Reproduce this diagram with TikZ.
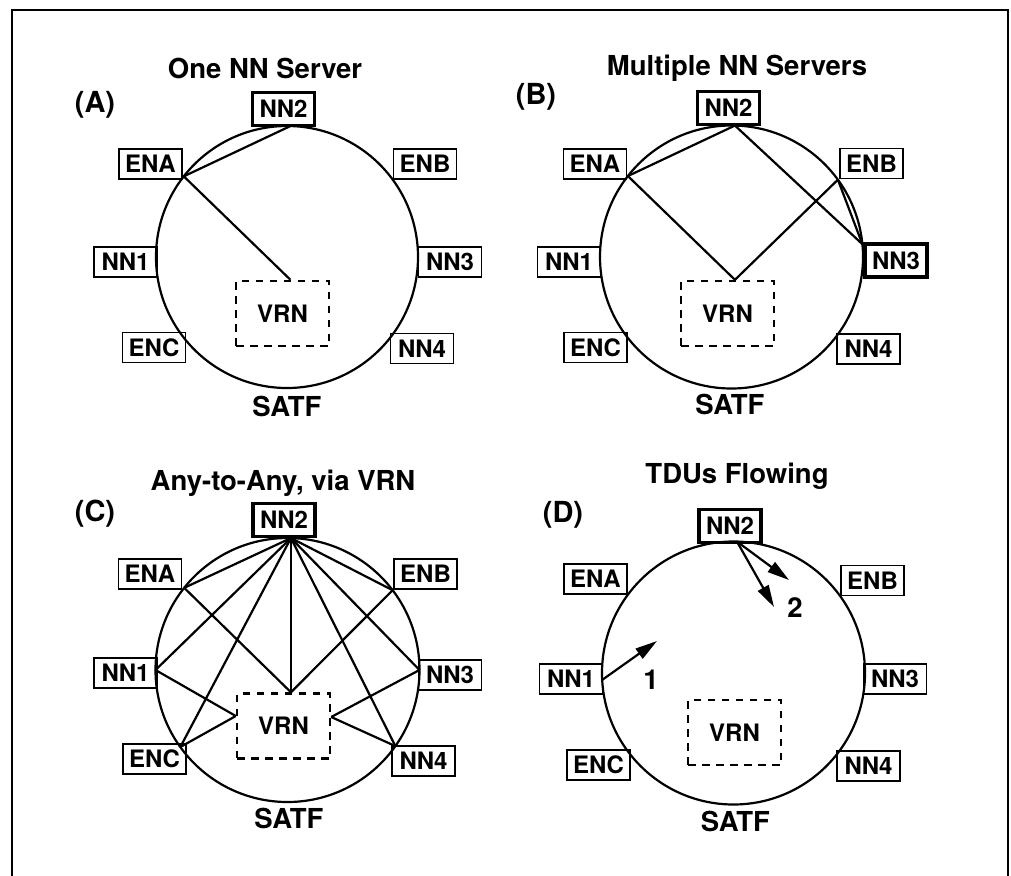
\documentclass[tikz,border=0pt]{standalone}
\usepackage{fontspec}
\setmainfont{TeX Gyre Heros}
\usetikzlibrary{calc,arrows.meta}

\begin{document}
\begin{tikzpicture}[x=1pt,y=-1pt,
  lbl/.style={font=\fontsize{24}{26}\bfseries\selectfont},
  box/.style={draw, lbl, line width=1.5pt, minimum width=63pt, minimum height=30pt, inner sep=0pt},
  hub/.style={box, line width=3.6pt, minimum width=62pt, minimum height=33pt},
  vrnbox/.style={draw, lbl, line width=2.4pt, dash pattern=on 7.5pt off 6.5pt, minimum width=93pt, minimum height=65pt, inner sep=0pt},
  ring/.style={line width=2.2pt},
  wire/.style={line width=2.2pt},
  title/.style={font=\fontsize{27.5}{30}\bfseries\selectfont, inner sep=0pt},
  tag/.style={font=\fontsize{29}{31}\bfseries\selectfont, inner sep=0pt},
  flow/.style={wire, -{Triangle[length=22pt,width=12pt]}},
]
\clip (0,0) rectangle (1011,875);
\draw[line width=1.4pt] (12,10) rectangle (1008,900);

% ---------- (A) One NN Server ----------
\node[title, anchor=base] (a-title) at (265,78) {One NN Server};
\node[tag] (a-tag) at (95,105) {(A)};
\node[hub] (a-nn2) at (283.5,109) {NN2};
\node[box] (a-ena) at (150.5,164) {ENA};
\node[box] (a-enb) at (425,164) {ENB};
\node[box] (a-nn1) at (125.5,262) {NN1};
\node[box] (a-nn3) at (450,262) {NN3};
\node[box] (a-enc) at (154,347.5) {ENC};
\node[box] (a-nn4) at (422,348.5) {NN4};
\node[vrnbox] (a-vrn) at (282.5,313.5) {VRN};
\coordinate (a-c) at (287,257);
\draw[ring] (a-c) circle[radius=131];
\node[title] (a-satf) at (287,406) {SATF};
\coordinate (a-jena) at ($(a-c)+(-142:131)$);
\coordinate (a-jnn2) at ($(a-c)+(-88.5:131)$);
\coordinate (a-jvrn) at (a-jnn2 |- a-vrn.north);
\draw[wire] (a-jena) -- (a-jnn2);
\draw[wire] (a-jena) -- (a-jvrn);

% ---------- (B) Multiple NN Servers ----------
\node[title, anchor=base] (b-title) at (737,75) {Multiple NN Servers};
\node[tag] (b-tag) at (536,97) {(B)};
\node[hub] (b-nn2) at (728.5,108) {NN2};
\node[box] (b-ena) at (595,164) {ENA};
\node[box] (b-enb) at (871.5,163.5) {ENB};
\node[box] (b-nn1) at (569,262) {NN1};
\node[hub] (b-nn3) at (896,260.5) {NN3};
\node[box] (b-enc) at (595.5,347.5) {ENC};
\node[box] (b-nn4) at (868.5,349) {NN4};
\node[vrnbox] (b-vrn) at (727.5,313.5) {VRN};
\coordinate (b-c) at (731.5,257);
\draw[ring] (b-c) circle[radius=131.5];
\node[title] (b-satf) at (730,404) {SATF};
\coordinate (b-jena) at ($(b-c)+(-142:131.5)$);
\coordinate (b-jenb) at ($(b-c)+(-36:131.5)$);
\coordinate (b-jnn2) at ($(b-c)+(-88.5:131.5)$);
\coordinate (b-jnn3) at ($(b-c)+(-5.6:131.5)$);
\coordinate (b-jvrn) at (b-jnn2 |- b-vrn.north);
\draw[wire] (b-jena) -- (b-jnn2);
\draw[wire] (b-jena) -- (b-jvrn);
\draw[wire] (b-jnn2) -- (b-jnn3);
\draw[wire] (b-jenb) -- (b-jvrn);
\draw[wire] (b-jenb) -- (b-jnn3);

% ---------- (C) Any-to-Any, via VRN ----------
\node[title, anchor=base] (c-title) at (283,490) {Any-to-Any, via VRN};
\node[tag] (c-tag) at (95,514) {(C)};
\node[hub] (c-nn2) at (284,520) {NN2};
\node[box] (c-ena) at (150,574) {ENA};
\node[box] (c-enb) at (425.5,574) {ENB};
\node[box] (c-nn1) at (125.5,673) {NN1};
\node[box] (c-nn3) at (450,675) {NN3};
\node[box] (c-enc) at (154.5,759) {ENC};
\node[box] (c-nn4) at (423.5,761) {NN4};
\node[vrnbox] (c-vrn) at (283.5,726) {VRN};
\coordinate (c-c) at (287.5,670);
\draw[ring] (c-c) circle[radius=132];
\node[title] (c-satf) at (289,818) {SATF};
\coordinate (c-jena) at ($(c-c)+(-141.5:132)$);
\coordinate (c-jenb) at ($(c-c)+(-37.2:132)$);
\coordinate (c-jnn1) at ($(c-c)+(180:132)$);
\coordinate (c-jnn3) at ($(c-c)+(0:132)$);
\coordinate (c-jenc) at ($(c-c)+(144.3:132)$);
\coordinate (c-jnn4) at ($(c-c)+(35.2:132)$);
\coordinate (c-jnn2) at ($(c-c)+(-88.5:132)$);
\coordinate (c-jvtop) at (c-jnn2 |- c-vrn.north);
\coordinate (c-jvl) at ($(c-vrn.west)+(0,-10)$);
\coordinate (c-jvr) at ($(c-vrn.east)+(0,-9)$);
\foreach \t in {ena,nn1,enc,vtop,nn4,nn3,enb}
  \draw[wire] (c-jnn2) -- (c-j\t);
\draw[wire] (c-jena) -- (c-jvtop);
\draw[wire] (c-jenb) -- (c-jvtop);
\draw[wire] (c-jnn1) -- (c-jvl);
\draw[wire] (c-jenc) -- (c-jvl);
\draw[wire] (c-jnn3) -- (c-jvr);
\draw[wire] (c-jnn4) -- (c-jvr);

% ---------- (D) TDUs Flowing ----------
\node[title, anchor=base] (d-title) at (737,483) {TDUs Flowing};
\node[tag] (d-tag) at (563,515) {(D)};
\node[hub] (d-nn2) at (730,526) {NN2};
\node[box] (d-ena) at (595.5,579) {ENA};
\node[box] (d-enb) at (872.5,580.5) {ENB};
\node[box] (d-nn1) at (571,679) {NN1};
\node[box] (d-nn3) at (895,679) {NN3};
\node[box] (d-enc) at (598.5,765) {ENC};
\node[box] (d-nn4) at (868.5,766) {NN4};
\node[vrnbox] (d-vrn) at (734.5,732.5) {VRN};
\coordinate (d-c) at (733.5,673);
\draw[ring] (d-c) circle[radius=131.5];
\node[title] (d-satf) at (735.5,821) {SATF};
\coordinate (d-jnn1) at ($(d-c)+(177:131.5)$);
\coordinate (d-jnn2) at ($(d-c)+(-88.5:131.5)$);
\coordinate (d-p1) at (657,641);
\coordinate (d-p2a) at (789,580);
\coordinate (d-p2b) at (774,607);
\draw[flow] (d-jnn1) -- (d-p1);
\draw[flow] (d-jnn2) -- (d-p2a);
\draw[flow] (d-jnn2) -- (d-p2b);
\node[title] (d-one) at (651,680) {1};
\node[title] (d-two) at (795,608) {2};
\end{tikzpicture}
\end{document}
